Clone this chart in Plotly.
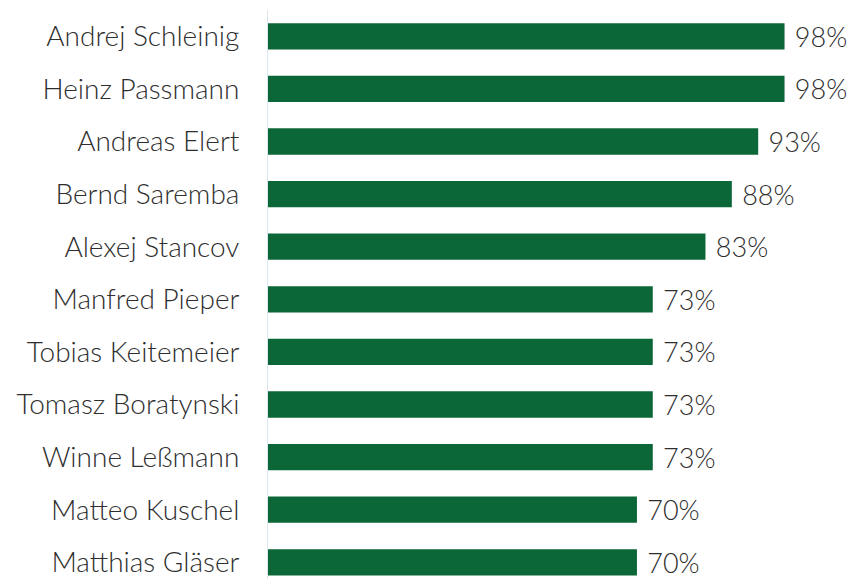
import plotly.graph_objects as go

names = ["Andrej Schleinig", "Heinz Passmann", "Andreas Elert", "Bernd Saremba",
         "Alexej Stancov", "Manfred Pieper", "Tobias Keitemeier", "Tomasz Boratynski",
         "Winne Leßmann", "Matteo Kuschel", "Matthias Gläser"]
values = [98, 98, 93, 88, 83, 73, 73, 73, 73, 70, 70]
labels = [f"{v}%" for v in values]

fig = go.Figure(go.Bar(
    x=values, y=names, orientation="h",
    marker=dict(color="#0b6638", line=dict(width=0)),
    text=labels, textposition="outside", cliponaxis=False,
    constraintext="none",
    texttemplate=" %{text}",
    textfont=dict(family="Lato", size=27, color="#2e2e2e", weight=300),
    width=0.5,
))

fig.update_layout(
    width=852, height=579,
    margin=dict(l=268, r=0, t=10, b=0, autoexpand=False),
    plot_bgcolor="white", paper_bgcolor="white",
    showlegend=False,
    font=dict(family="Lato", size=28, color="#2e2e2e"),
    xaxis=dict(range=[0, 110.8], visible=False, automargin=False),
    yaxis=dict(range=[10.317, -0.5], showline=True, linecolor="#dde6ec", linewidth=1,
               showgrid=False, ticks="", ticklabelstandoff=22, automargin=False,
               tickfont=dict(family="Lato", size=28, color="#2e2e2e", weight=300),
               categoryorder="array", categoryarray=names),
)

fig.write_html("out.html", config={"displayModeBar": False},
               post_script="document.body.style.margin='0';document.body.style.overflow='hidden';")
